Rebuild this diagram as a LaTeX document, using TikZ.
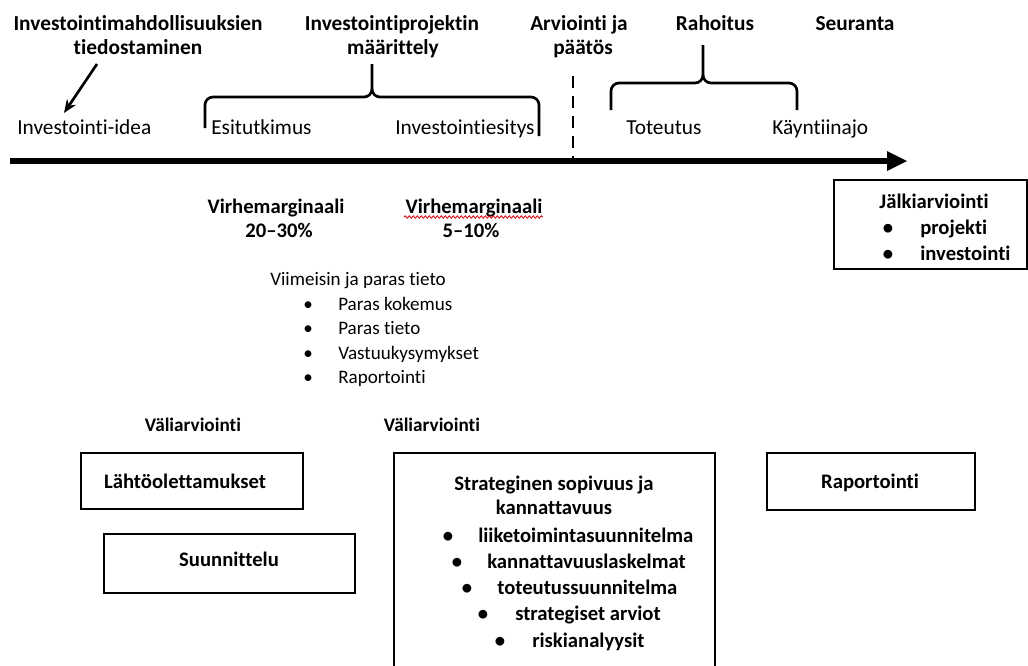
\documentclass[tikz,border=0pt]{standalone}
\usepackage{fontspec}
\setmainfont{Carlito}[Ligatures={TeX,NoCommon}]
\usetikzlibrary{decorations.pathmorphing,arrows.meta}

\begin{document}
\begin{tikzpicture}[x=0.75pt,y=-0.75pt,
  toplbl/.style={inner sep=0pt,anchor=base,font=\fontsize{16}{19}\selectfont},
  topbold/.style={inner sep=0pt,anchor=base,font=\fontsize{16}{19}\selectfont\bfseries},
  blbl/.style={inner sep=0pt,anchor=base,font=\fontsize{15.5}{18}\selectfont\bfseries},
  small/.style={inner sep=0pt,anchor=base,font=\fontsize{14.3}{17}\selectfont},
  sbold/.style={inner sep=0pt,anchor=base,font=\fontsize{14.4}{17}\selectfont\bfseries},
  frame/.style={draw,line width=1.6pt},
  brace/.style={draw,line width=2pt},
  timeline/.style={line width=5pt},
]
\useasboundingbox (0,0) rectangle (1028,665);

% --- phase headings ---
\node[topbold] (h1a) at (138,30) {Investointimahdollisuuksien};
\node[topbold] (h1b) at (138,54) {tiedostaminen};
\node[topbold] (h2a) at (392,30) {Investointiprojektin};
\node[topbold] (h2b) at (393,54) {määrittely};
\node[topbold] (h3a) at (579,30) {Arviointi ja};
\node[topbold] (h3b) at (583,54) {päätös};
\node[topbold] (h4) at (715,30) {Rahoitus};
\node[topbold] (h5) at (855,30) {Seuranta};

% --- stages above the time line ---
\node[toplbl,anchor=base west] (idea) at (17,134) {Investointi-idea};
\node[toplbl,anchor=base west] (esi) at (211,134) {Esitutkimus};
\node[toplbl,anchor=base west] (esit) at (395,134) {Investointiesitys};
\node[toplbl,anchor=base west] (tot) at (626,134) {Toteutus};
\node[toplbl,anchor=base west] (kay) at (772,134) {Käyntiinajo};

\coordinate (arrS) at (97,64);
\coordinate (arrE) at (64,113);
\draw[line width=2pt,-{Stealth[length=10pt,width=8pt]}] (arrS) -- (arrE);

% braces
\draw[brace] (205,128) -- (205,105) to[out=90,in=180] (213,97) -- (364,97)
  to[out=0,in=270] (372,89) -- (372,64);
\draw[brace] (372,89) to[out=270,in=180] (380,97) -- (531,97)
  to[out=0,in=90] (539,105) -- (539,136);
\draw[brace] (611,110) -- (611,91) to[out=90,in=180] (619,83) -- (695,83)
  to[out=0,in=270] (703,75) -- (703,45);
\draw[brace] (703,75) to[out=270,in=180] (711,83) -- (789,83)
  to[out=0,in=90] (797,91) -- (797,110);

% decision point
\coordinate (decT) at (573,76);
\coordinate (decB) at (573,160);
\draw[line width=2.2pt,dash pattern=on 9pt off 6pt] (decT) -- (decB);

% time line
\coordinate (tlS) at (10,161);
\coordinate (tlE) at (888,161);
\draw[timeline] (tlS) -- (tlE);
\fill (887,151) -- (907,161) -- (887,171) -- cycle;

% --- error margins ---
\node[blbl] (vm1) at (276,213) {Virhemarginaali};
\node[blbl] (vm1b) at (279,237) {20–30\%};
\node[blbl] (vm2) at (474,213) {Virhemarginaali};
\node[blbl] (vm2b) at (471,237) {5–10\%};
\draw[red!85!black,line width=0.6pt,decorate,
  decoration={snake,amplitude=0.9pt,segment length=3pt}]
  (404,217) -- (543,217);

% --- latest and best knowledge ---
\node[small,anchor=base west] (kn) at (270,285) {Viimeisin ja paras tieto};
\foreach \y/\t [count=\i] in {310/Paras kokemus,334/Paras tieto,359/Vastuukysymykset,383/Raportointi}{
  \node[small] (knb\i) at (308,\y) {•};
  \node[small,anchor=base west] (kn\i) at (338,\y) {\t};
}

% --- post evaluation ---
\draw[frame] (834,180) rectangle (1027,269);
\node[blbl] (ja) at (934,208) {Jälkiarviointi};
\node[blbl] (jab1) at (888,234) {•};
\node[blbl,anchor=base west] (ja1) at (920,234) {projekti};
\node[blbl] (jab2) at (888,260) {•};
\node[blbl,anchor=base west] (ja2) at (920,260) {investointi};

% --- interim evaluations ---
\node[sbold] (va1) at (193,431) {Väliarviointi};
\node[sbold] (va2) at (432,431) {Väliarviointi};

\draw[frame] (81,453) rectangle (303,509);
\node[blbl] (lo) at (185,488) {Lähtöolettamukset};
\draw[frame] (104,534) rectangle (355,593);
\node[blbl] (su) at (229,566) {Suunnittelu};
\draw[frame] (767,453) rectangle (975,510);
\node[blbl] (ra) at (870,488) {Raportointi};

\draw[frame] (394,680) -- (394,453) -- (715,453) -- (715,680);
\node[blbl] (sp1) at (554,490) {Strateginen sopivuus ja};
\node[blbl] (sp2) at (554,514) {kannattavuus};
\foreach \y/\bx/\tx/\t [count=\i] in {542/448/478/liiketoimintasuunnitelma,568/457/487/kannattavuuslaskelmat,594/467/497/toteutussuunnitelma,620/483/515/strategiset arviot,647/500/532/riskianalyysit}{
  \node[blbl] (spb\i) at (\bx,\y) {•};
  \node[blbl,anchor=base west] (sp\i x) at (\tx,\y) {\t};
}
\end{tikzpicture}
\end{document}
